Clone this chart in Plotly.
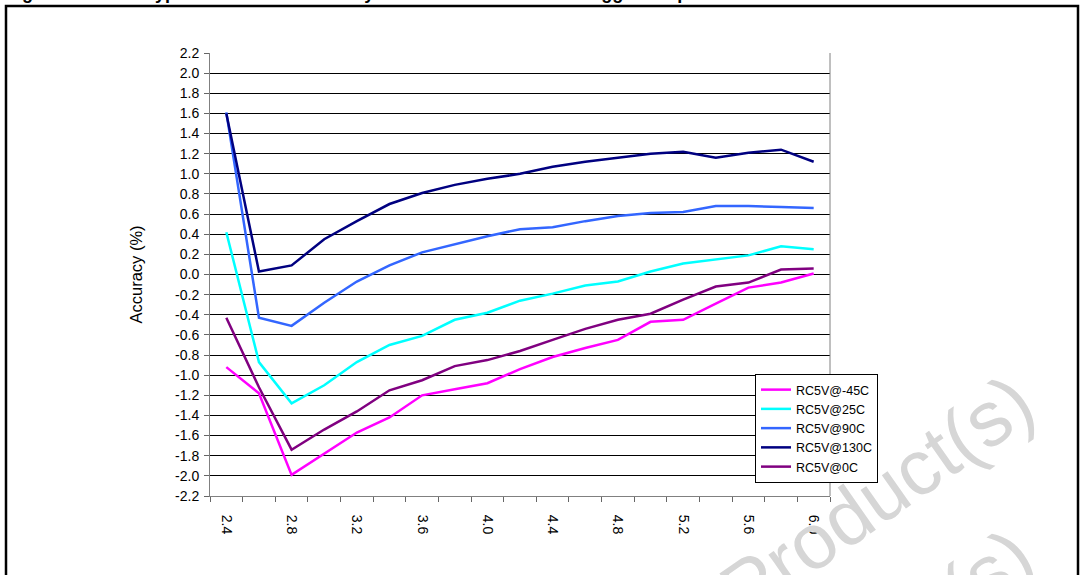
import plotly.graph_objects as go

# ---- data ----
voltages = [2.4, 2.6, 2.8, 3.0, 3.2, 3.4, 3.6, 3.8, 4.0, 4.2, 4.4, 4.6, 4.8, 5.0, 5.2, 5.4, 5.6, 5.8, 6.0]
x_tick_vals = [2.4, 2.8, 3.2, 3.6, 4.0, 4.4, 4.8, 5.2, 5.6, 6.0]
x_tick_labels = ["2.4", "2.8", "3.2", "3.6", "4.0", "4.4", "4.8", "5.2", "5.6", "6.0"]
y_tick_vals = [2.2, 2.0, 1.8, 1.6, 1.4, 1.2, 1.0, 0.8, 0.6, 0.4, 0.2, 0.0,
               -0.2, -0.4, -0.6, -0.8, -1.0, -1.2, -1.4, -1.6, -1.8, -2.0, -2.2]
y_tick_labels = ["2.2", "2.0", "1.8", "1.6", "1.4", "1.2", "1.0", "0.8", "0.6", "0.4", "0.2", "0.0",
                 "-0.2", "-0.4", "-0.6", "-0.8", "-1.0", "-1.2", "-1.4", "-1.6", "-1.8", "-2.0", "-2.2"]

series_names = ["RC5V@-45C", "RC5V@25C", "RC5V@90C", "RC5V@130C", "RC5V@0C"]
acc_m45 = [-0.92, -1.18, -1.99, -1.78, -1.57, -1.42, -1.20, -1.14, -1.08, -0.94,
           -0.82, -0.73, -0.65, -0.47, -0.45, -0.29, -0.13, -0.08, 0.01]
acc_25 = [0.42, -0.87, -1.28, -1.10, -0.87, -0.70, -0.61, -0.45, -0.38, -0.26,
          -0.19, -0.11, -0.07, 0.03, 0.11, 0.15, 0.19, 0.28, 0.25]
acc_90 = [1.61, -0.43, -0.51, -0.28, -0.07, 0.09, 0.22, 0.30, 0.38, 0.45,
          0.47, 0.53, 0.58, 0.61, 0.62, 0.68, 0.68, 0.67, 0.66]
acc_130 = [1.60, 0.03, 0.09, 0.35, 0.53, 0.70, 0.81, 0.89, 0.95, 1.00,
           1.07, 1.12, 1.16, 1.20, 1.22, 1.16, 1.21, 1.24, 1.12]
acc_0 = [-0.43, -1.12, -1.74, -1.54, -1.36, -1.15, -1.05, -0.91, -0.85, -0.76,
         -0.65, -0.54, -0.45, -0.39, -0.25, -0.12, -0.08, 0.05, 0.06]
series_values = [acc_m45, acc_25, acc_90, acc_130, acc_0]
series_colors = ["#FF00FF", "#00FFFF", "#3366FF", "#000080", "#800080"]

y_title = "Accuracy (%)"
fig_title = "Figure 30. RC5V typical oscillator accuracy versus VDD at different trigger temperatures"
watermark = "Product(s)"

FONT = "Liberation Sans, Arial, Helvetica, sans-serif"

# plot-area geometry in pixels (for converting page positions to paper coords)
W, H = 1082, 575
L, R, T, B = 210, 830, 53, 496
def px(x):
    return (x - L) / (R - L)
def py(y):
    return (B - y) / (B - T)

fig = go.Figure()
for name, vals, col in zip(series_names, series_values, series_colors):
    fig.add_trace(go.Scatter(x=voltages, y=vals, name=name, mode="lines",
                             line=dict(color=col, width=2.5)))

fig.update_layout(
    width=W, height=H,
    margin=dict(l=L, r=W - R, t=T, b=H - B),
    paper_bgcolor="white", plot_bgcolor="white",
    font=dict(family=FONT, color="black", size=14),
    showlegend=True,
    legend=dict(x=px(755), y=py(374), xanchor="left", yanchor="top",
                bgcolor="white", bordercolor="black", borderwidth=1,
                font=dict(size=12.5, family=FONT), itemwidth=30,
                tracegroupgap=0),
)

fig.update_xaxes(
    range=[2.3, 6.1], tickmode="array", tickvals=x_tick_vals, ticktext=x_tick_labels,
    tickangle=90, ticks="", ticklabelstandoff=15,
    showline=True, linecolor="#808080", linewidth=1,
    showgrid=False, zeroline=False,
    minor=dict(tick0=2.3, dtick=0.2, ticks="outside", ticklen=5, tickcolor="#666666",
               showgrid=False),
    tickfont=dict(size=14),
)
fig.update_yaxes(
    range=[-2.2, 2.2], tickmode="array", tickvals=y_tick_vals, ticktext=y_tick_labels,
    ticks="outside", ticklen=5, tickcolor="#666666", ticklabelstandoff=2,
    showline=True, linecolor="#808080", linewidth=1,
    showgrid=True, gridcolor="#000000", gridwidth=1, zeroline=False,
    tickfont=dict(size=14),
)

# right border of plot area
fig.add_shape(type="line", xref="paper", yref="paper", x0=1, x1=1, y0=0, y1=1,
              line=dict(color="#808080", width=1))
# outer frame
fig.add_shape(type="rect", xref="paper", yref="paper",
              x0=px(6), x1=px(1078), y0=py(6), y1=py(600),
              line=dict(color="black", width=2.5), fillcolor="rgba(0,0,0,0)")

# y-axis title
fig.add_annotation(text=y_title, xref="paper", yref="paper", x=px(135), y=0.5,
                   xanchor="center", yanchor="middle",
                   textangle=-90, showarrow=False, font=dict(size=16.5, family=FONT))

# page title (mostly above the visible area)
fig.add_annotation(text="<b>" + fig_title + "</b>", xref="paper", yref="paper",
                   x=px(4), y=py(5), xanchor="left", yanchor="bottom",
                   showarrow=False, font=dict(size=18, family=FONT))

# watermark
for cy in (496, 650):
    fig.add_annotation(text=watermark, xref="paper", yref="paper", x=px(877), y=py(cy),
                       xanchor="center", yanchor="middle",
                       textangle=-35, showarrow=False,
                       font=dict(size=78, family=FONT, color="#d6d6d6"))

fig.write_html("out.html",
               config={"displayModeBar": False},
               post_script="document.body.style.margin='0';document.body.style.overflow='hidden';")
